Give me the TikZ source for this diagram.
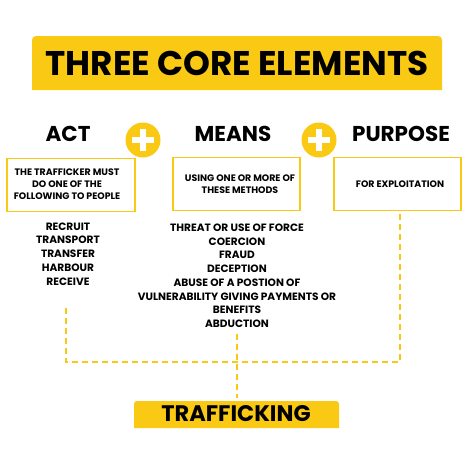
\documentclass[tikz,border=0pt]{standalone}
\usepackage{fontspec}
\setmainfont{Poppins}
\definecolor{yel}{RGB}{250,201,20}
\begin{document}
\begin{tikzpicture}[x=1pt,y=-1pt,
  head/.style={font=\fontsize{21.5}{24}\selectfont\bfseries, inner sep=0pt},
  boxtxt/.style={font=\fontsize{9.4}{11.7}\selectfont\bfseries, align=center, inner sep=0pt},
  listtxt/.style={font=\fontsize{10.6}{13.75}\selectfont\bfseries, align=center, inner sep=0pt, anchor=north},
  ybox/.style={draw=yel, line width=1.8pt, minimum width=127pt, minimum height=53pt, inner sep=0pt},
  plus/.style={circle, fill=yel, minimum size=35pt, inner sep=0pt},
  yline/.style={draw=yel, line width=1.6pt, dash pattern=on 6pt off 4pt}
]
\useasboundingbox (0,0) rectangle (474,474);
\fill[white] (0,0) rectangle (474,474);
% title banner
\fill[yel] (32,90) {[rounded corners=4pt] -- (32,36) -- (442,36)} -- (442,90) -- cycle;
\node[inner sep=0pt, font=\fontsize{34.2}{36}\selectfont\bfseries] (title) at (237,63) {THREE CORE ELEMENTS};
% headings
\node[head] (act) at (68,134) {ACT};
\node[head] (means) at (233,134) {MEANS};
\node[head] (purpose) at (401,134) {PURPOSE};
% plus signs
\node[plus] (p1) at (143,140) {};
\node[plus] (p2) at (319,140) {};
\fill[white] ([xshift=-11pt,yshift=-3pt]p1.center) rectangle ([xshift=11pt,yshift=3pt]p1.center);
\fill[white] ([xshift=-3pt,yshift=-11pt]p1.center) rectangle ([xshift=3pt,yshift=11pt]p1.center);
\fill[white] ([xshift=-11pt,yshift=-3pt]p2.center) rectangle ([xshift=11pt,yshift=3pt]p2.center);
\fill[white] ([xshift=-3pt,yshift=-11pt]p2.center) rectangle ([xshift=3pt,yshift=11pt]p2.center);
% boxes
\node[ybox, minimum width=128pt] (bact) at (71,185) {};
\node[boxtxt] (tact) at (67,184) {THE TRAFFICKER MUST\\DO ONE OF THE\\FOLLOWING TO PEOPLE};
\node[ybox] (bmeans) at (236.5,184) {};
\node[boxtxt] (tmeans) at (240,184) {USING ONE OR MORE OF\\THESE METHODS};
\node[ybox] (bpurpose) at (397.5,184) {};
\node[boxtxt] (tpurpose) at (400,184) {FOR EXPLOITATION};
% lists
\node[listtxt] (lact) at (68,222.5) {RECRUIT\\TRANSPORT\\TRANSFER\\HARBOUR\\RECEIVE};
\node[listtxt] (lmeans) at (237,223.5) {THREAT OR USE OF FORCE\\COERCION\\FRAUD\\DECEPTION\\ABUSE OF A POSTION OF\\VULNERABILITY GIVING PAYMENTS OR\\BENEFITS\\ABDUCTION};
% trafficking banner
\fill[yel] (134,428) {[rounded corners=3pt] -- (134,401) -- (339,401)} -- (339,428) -- cycle;
\node[inner sep=0pt, font=\fontsize{22.5}{25}\selectfont\bfseries] (traf) at (236,414) {TRAFFICKING};
\coordinate (trafTop) at (237,398);
% dashed connectors
\coordinate (lstart) at (66,308);
\coordinate (mstart) at (237,334);
\coordinate (jl) at (66,362);
\coordinate (jr) at (400,362);
\draw[yline] (lstart) -- (jl) -- (jr) -- (bpurpose.south -| jr);
\draw[yline] (mstart) -- (trafTop);
\end{tikzpicture}
\end{document}
